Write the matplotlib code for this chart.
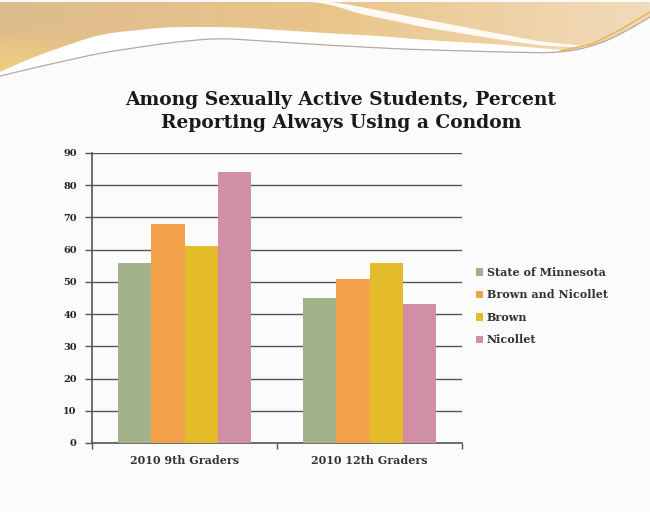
import numpy as np
import matplotlib
matplotlib.use("Agg")
import matplotlib.pyplot as plt
from matplotlib.patches import Polygon

categories = ["2010 9th Graders", "2010 12th Graders"]
series_names = ["State of Minnesota", "Brown and Nicollet", "Brown", "Nicollet"]
state_mn = [56, 45]
brown_nicollet = [68, 51]
brown = [61, 56]
nicollet = [84, 43]
yticks = [0, 10, 20, 30, 40, 50, 60, 70, 80, 90]

colors = ["#a3b28b", "#f2a04a", "#e4bb2a", "#d08fa6"]
values = [state_mn, brown_nicollet, brown, nicollet]

W, H = 650, 512
fig = plt.figure(figsize=(W / 100, H / 100), dpi=100)
fig.patch.set_facecolor("#fbfbfb")


def smooth_curve(px, py, xs, k=8):
    y = np.interp(xs, px, py)
    pad = np.pad(y, k, mode="reflect", reflect_type="odd")
    ker = np.ones(2 * k + 1) / (2 * k + 1)
    return np.convolve(pad, ker, mode="same")[k:-k]


def hexrgb(h):
    h = h.lstrip("#")
    return np.array([int(h[i:i + 2], 16) for i in (0, 2, 4)]) / 255.0


# ---- decorative header band ----
bg = fig.add_axes([0, 0, 1, 1], zorder=-10)
bg.set_xlim(0, W)
bg.set_ylim(H, 0)
bg.axis("off")

gx = np.linspace(0, 1, W)[None, :, None]
gy = np.linspace(0, 1, 90)[:, None, None]
tan = hexrgb("#ddbb8d")
gold = hexrgb("#eac58a")
peach = hexrgb("#f2dbbb")
yellow = hexrgb("#f3d27c")
img = np.where(gx < 0.5, tan * (1 - gx * 2) + gold * (gx * 2),
               gold * (1 - (gx - 0.5) * 2) + peach * ((gx - 0.5) * 2))
wy = np.clip((gy * 90 - 25) / 50, 0, 1) * np.clip(1 - gx * W / 200, 0, 1)
img = img * (1 - wy) + yellow * wy
img = np.clip(img, 0, 1)
im = bg.imshow(img, extent=[0, W, 90, 0], aspect="auto", zorder=1, interpolation="bilinear")

xs = np.linspace(0, W, 651)
L = smooth_curve([0, 33, 100, 167, 217, 325, 400, 500, 558, 592, 620, 650],
                 [76, 68, 53, 43, 38, 45, 49, 52, 53, 47, 35, 17], xs, k=20)
U = smooth_curve([0, 33, 100, 167, 233, 325, 380, 425, 492, 540, 570, 600, 650],
                 [72, 57, 34, 27, 27, 33, 36, 40, 44, 48, 51, 48, 18], xs, k=20)
U = np.minimum(U, L)
clip = Polygon([(0, 2)] + list(zip(xs, L)) + [(W, 2)], closed=True,
               transform=bg.transData, facecolor="none", edgecolor="none")
bg.add_patch(clip)
im.set_clip_path(clip)

# top white stripe (upper right)
xs2 = np.linspace(300, 600, 301)
S_up = smooth_curve([300, 330, 358, 425, 492, 540, 600], [0, 1, 6, 19, 32, 41, 47], xs2, k=10)
S_low = smooth_curve([300, 330, 358, 425, 492, 540, 600], [0, 4, 13, 27, 38, 45, 48], xs2, k=10)
U2 = np.interp(xs2, xs, U)
bg.fill_between(xs2, S_up, np.minimum(S_low, U2), color="#ffffff", alpha=0.9, lw=0, zorder=3)
# main white swoosh
bg.fill_between(xs, U, L, color="#ffffff", lw=0, zorder=3)
bg.plot(xs, L, color="#bba89c", lw=0.9, zorder=4)
# right-edge golden accent
xs3 = np.linspace(560, 650, 91)
bg.plot(xs3, smooth_curve([560, 592, 620, 650], [51, 44, 30, 12], xs3, k=5),
        color="#e6b860", lw=1.2, zorder=4)

# ---- chart ----
ax = fig.add_axes([92 / W, 1 - 443 / H, 370 / W, 290 / H])
ax.set_facecolor("none")
n = len(series_names)
bw = 0.181
x = np.arange(len(categories))
for i, (name, vals, c) in enumerate(zip(series_names, values, colors)):
    ax.bar(x + (i - (n - 1) / 2) * bw, vals, width=bw, color=c, label=name, zorder=3)

ax.set_xlim(-0.5, 1.5)
ax.set_ylim(0, 90)
ax.set_yticks(yticks)
ax.set_yticklabels([str(t) for t in yticks], fontsize=7, fontweight="bold",
                   family="DejaVu Serif", color="#222222")
ax.yaxis.grid(True, color="#555555", lw=1.0, zorder=0)
ax.set_axisbelow(True)
ax.tick_params(axis="y", length=5, width=1, color="#555555", pad=6, direction="out")
ax.set_xticks([-0.5, 0.5, 1.5])
ax.set_xticklabels([])
ax.set_xticks(x, minor=True)
ax.set_xticklabels(categories, minor=True, fontsize=8, fontweight="bold",
                   family="DejaVu Serif", color="#333333")
ax.tick_params(axis="x", which="major", length=4, width=1, color="#555555")
ax.tick_params(axis="x", which="minor", length=0, pad=9)
for s in ["top", "right"]:
    ax.spines[s].set_visible(False)
for s in ["left", "bottom"]:
    ax.spines[s].set_color("#555555")
    ax.spines[s].set_linewidth(1.2)

leg = ax.legend(loc="center left", bbox_to_anchor=(1.01, 0.472), frameon=False,
                prop={"family": "DejaVu Serif", "weight": "bold", "size": 8},
                handlelength=0.7, handleheight=0.7, handletextpad=0.3, labelspacing=1.04)
for t in leg.get_texts():
    t.set_color("#333333")

fig.text(341 / W, 1 - 111.5 / H,
         "Among Sexually Active Students, Percent\nReporting Always Using a Condom",
         ha="center", va="center", fontsize=13.4, fontweight="bold",
         family="DejaVu Serif", color="#1a1a1a", linespacing=1.35)

fig.savefig("out.png", dpi=100, facecolor=fig.get_facecolor())
